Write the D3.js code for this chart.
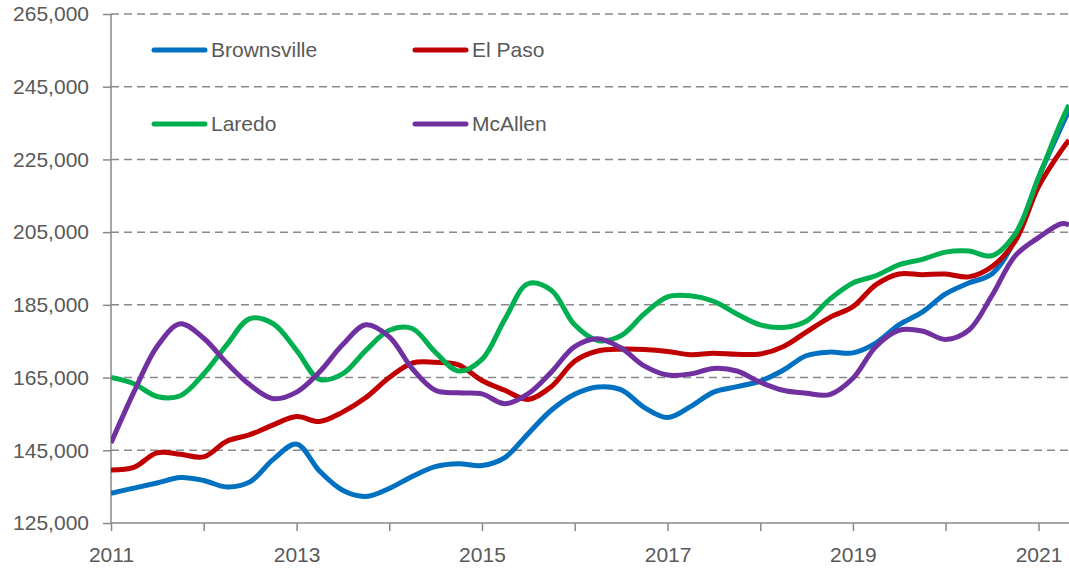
<!DOCTYPE html>
<html>
<head>
<meta charset="utf-8">
<script src="https://cdn.jsdelivr.net/npm/d3@7"></script>
<style>
  body { margin: 0; background: #fff; }
  svg { display: block; font-family: "Liberation Sans", Arial, sans-serif; }
</style>
</head>
<body>
<svg id="chart" width="1069" height="568"></svg>
<script>
var d3 = window.d3;

// quarterly readings, last two points are Apr and May 2021
var months = [
  '2011-01', '2011-04', '2011-07', '2011-10', '2012-01', '2012-04', '2012-07', '2012-10',
  '2013-01', '2013-04', '2013-07', '2013-10', '2014-01', '2014-04', '2014-07', '2014-10',
  '2015-01', '2015-04', '2015-07', '2015-10', '2016-01', '2016-04', '2016-07', '2016-10',
  '2017-01', '2017-04', '2017-07', '2017-10', '2018-01', '2018-04', '2018-07', '2018-10',
  '2019-01', '2019-04', '2019-07', '2019-10', '2020-01', '2020-04', '2020-07', '2020-10',
  '2021-01', '2021-04', '2021-05'
];

var brownsville = [133200, 134600, 136000, 137500, 136700, 134900, 136300, 142500,
  146700, 139300, 134000, 132300, 134500, 137800, 140500, 141300,
  140800, 143000, 149500, 156000, 160400, 162400, 161700, 156800,
  154000, 157000, 161000, 162500, 164000, 167000, 171000, 172000,
  171800, 174500, 179500, 183000, 188000, 191000, 193500, 203000,
  220000, 234000, 238500];

var elPaso = [139600, 140300, 144300, 143900, 143200, 147500, 149300, 152000,
  154300, 152900, 155500, 159500, 165000, 169000, 169200, 168500,
  164200, 161500, 159000, 162500, 169500, 172300, 172800, 172700,
  172200, 171300, 171700, 171400, 171500, 173500, 177500, 181500,
  184500, 190500, 193500, 193300, 193500, 192700, 195500, 202500,
  217500, 227500, 230300];

var laredo = [165000, 163300, 159800, 160000, 166000, 174000, 181200, 179800,
  172500, 164500, 166000, 172500, 178000, 178500, 172000, 166800,
  170000, 181000, 190800, 189000, 179500, 175200, 176500, 182500,
  187200, 187500, 186000, 182500, 179500, 178800, 180500, 186500,
  191000, 193000, 196000, 197500, 199500, 199800, 198500, 204500,
  220000, 235500, 240000];

var mcAllen = [147000, 161000, 173500, 179800, 175800, 169000, 163000, 159200,
  161000, 166500, 174000, 179500, 176200, 167500, 161500, 160800,
  160500, 157800, 160500, 166500, 173500, 175700, 173200, 168200,
  165700, 166000, 167500, 166800, 163700, 161500, 160700, 160300,
  164800, 173500, 178000, 177800, 175500, 178000, 187500, 198500,
  203500, 207300, 207000];

var seriesNames = ['Brownsville', 'El Paso', 'Laredo', 'McAllen'];
var seriesColors = ['#0070C0', '#C00000', '#00B050', '#7030A0'];
var seriesValues = [brownsville, elPaso, laredo, mcAllen];

var yTicks = [125000, 145000, 165000, 185000, 205000, 225000, 245000, 265000];
var xLabelYears = [2011, 2013, 2015, 2017, 2019, 2021];

var parseMonth = d3.timeParse('%Y-%m');
var dates = months.map(parseMonth);

var svg = d3.select('#chart');
var plotLeft = 111, plotRight = 1069, plotTop = 14, plotBottom = 523;

var xScale = d3.scaleTime()
  .domain([new Date(2011, 0, 1), new Date(2021, 4, 1)])
  .range([plotLeft, plotRight]);

var yScale = d3.scaleLinear()
  .domain([125000, 265000])
  .range([plotBottom, plotTop]);

var fmt = d3.format(',');
var textColor = '#595959';
var axisColor = '#898989';

// dashed gridlines with y labels
var yAxis = d3.axisLeft(yScale)
  .tickValues(yTicks)
  .tickFormat(fmt)
  .tickSize(8)
  .tickPadding(14);

var yG = svg.append('g')
  .attr('transform', 'translate(' + plotLeft + ',0)')
  .call(yAxis);
yG.select('.domain').remove();
yG.selectAll('.tick line').attr('stroke', axisColor).attr('stroke-width', 1.5);
yG.selectAll('.tick text')
  .attr('fill', textColor)
  .style('font-size', '21px')
  .style('font-family', '"Liberation Sans", Arial, sans-serif');

svg.append('g').selectAll('line')
  .data(yTicks.filter(function(d) { return d !== 125000; }))
  .enter().append('line')
  .attr('x1', plotLeft)
  .attr('x2', plotRight)
  .attr('y1', function(d) { return yScale(d); })
  .attr('y2', function(d) { return yScale(d); })
  .attr('stroke', axisColor)
  .attr('stroke-width', 1.5)
  .attr('stroke-dasharray', '8,5');

// x axis
var yearTicks = d3.range(2011, 2022).map(function(y) { return new Date(y, 0, 1); });
var xAxis = d3.axisBottom(xScale)
  .tickValues(yearTicks)
  .tickSize(8)
  .tickPadding(16)
  .tickFormat(function(d) {
    var y = d.getFullYear();
    return xLabelYears.indexOf(y) >= 0 ? y : '';
  });

var xG = svg.append('g')
  .attr('transform', 'translate(0,' + plotBottom + ')')
  .call(xAxis);
xG.select('.domain').attr('stroke', axisColor).attr('stroke-width', 1.5)
  .attr('d', 'M' + plotLeft + ',0H' + plotRight);
xG.selectAll('.tick line').attr('stroke', axisColor).attr('stroke-width', 1.5);
xG.selectAll('.tick text')
  .attr('fill', textColor)
  .style('font-size', '21px')
  .style('font-family', '"Liberation Sans", Arial, sans-serif');

// y axis line
svg.append('line')
  .attr('x1', plotLeft).attr('x2', plotLeft)
  .attr('y1', plotTop).attr('y2', plotBottom)
  .attr('stroke', axisColor)
  .attr('stroke-width', 1.5);

// series
var line = d3.line()
  .x(function(d, i) { return xScale(dates[i]); })
  .y(function(d) { return yScale(d); })
  .curve(d3.curveCatmullRom.alpha(0.5));

var plot = svg.append('g');
plot.append('clipPath').attr('id', 'clip')
  .append('rect')
  .attr('x', plotLeft).attr('y', 0)
  .attr('width', plotRight - plotLeft).attr('height', plotBottom);

plot.selectAll('path.series')
  .data(seriesValues)
  .enter().append('path')
  .attr('class', 'series')
  .attr('clip-path', 'url(#clip)')
  .attr('d', line)
  .attr('fill', 'none')
  .attr('stroke', function(d, i) { return seriesColors[i]; })
  .attr('stroke-width', 5)
  .attr('stroke-linejoin', 'round');

// legend, two by two
var legendX = [152, 413];
var legendY = [50, 124];
var legend = svg.append('g').selectAll('g')
  .data(seriesNames)
  .enter().append('g')
  .attr('transform', function(d, i) {
    return 'translate(' + legendX[i % 2] + ',' + legendY[Math.floor(i / 2)] + ')';
  });

legend.append('line')
  .attr('x1', 2).attr('x2', 53)
  .attr('y1', 0).attr('y2', 0)
  .attr('stroke', function(d, i) { return seriesColors[i]; })
  .attr('stroke-width', 5)
  .attr('stroke-linecap', 'round');

legend.append('text')
  .attr('x', 59)
  .attr('y', 0)
  .attr('dy', '0.35em')
  .attr('fill', textColor)
  .style('font-size', '21px')
  .text(function(d) { return d; });
</script>
</body>
</html>
